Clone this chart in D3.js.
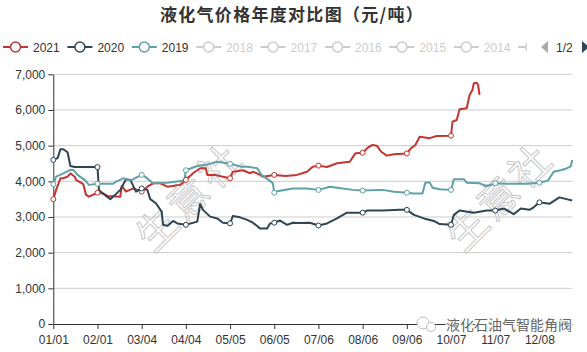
<!DOCTYPE html>
<html>
<head>
<meta charset="utf-8">
<script src="https://cdn.jsdelivr.net/npm/d3@7"></script>
<style>
  body { margin: 0; background: #fff; }
  svg { display: block; font-family: "Liberation Sans", Arial, sans-serif; }
</style>
</head>
<body>
<div id="chart"></div>
<script>
// 数据：每条线 [一年中的第几天(0 = 01/01), 价格 元/吨]
var s2021 = [[0,3500],[2,3760],[5,4085],[7,4085],[10,4130],[12,4225],[15,4130],[16,4040],[21,3920],[23,3620],[25,3570],[31,3680],[35,3660],[38,3590],[47,3570],[48,3870],[51,3710],[56,3800],[62,3710],[66,3850],[70,3945],[75,3945],[80,3850],[89,3900],[93,4040],[98,4225],[103,4366],[107,4366],[108,4180],[113,4180],[119,4130],[124,4085],[126,4270],[133,4310],[138,4225],[140,4270],[145,4180],[147,4130],[155,4180],[163,4150],[171,4180],[178,4270],[182,4410],[186,4440],[192,4400],[199,4506],[208,4550],[212,4790],[217,4800],[221,4955],[224,5020],[227,5000],[230,4830],[234,4720],[239,4760],[248,4780],[251,4930],[254,5020],[257,5250],[264,5210],[269,5270],[279,5280],[280,5670],[283,5720],[285,6020],[290,6050],[292,6420],[294,6560],[295,6750],[297,6766],[298,6700],[299,6420]];
var s2020 = [[0,4600],[3,4650],[5,4900],[7,4900],[10,4815],[12,4430],[15,4400],[31,4400],[32,3760],[35,3650],[40,3500],[47,3760],[51,4060],[54,4040],[58,3710],[62,3800],[66,3760],[68,3500],[72,3384],[76,3150],[77,2780],[80,2750],[84,2890],[87,2820],[93,2780],[101,2870],[103,3365],[105,3200],[110,3010],[115,2960],[119,2840],[124,2823],[126,3030],[131,2990],[136,2920],[140,2840],[145,2680],[150,2680],[152,2820],[155,2840],[159,2900],[164,2780],[168,2840],[173,2830],[180,2840],[186,2760],[192,2820],[199,2960],[206,3120],[217,3120],[220,3180],[231,3180],[243,3200],[248,3200],[253,3060],[260,2960],[267,2890],[271,2800],[279,2780],[281,3060],[285,3180],[295,3120],[304,3180],[310,3180],[316,3240],[323,3080],[328,3240],[334,3200],[337,3270],[341,3410],[348,3370],[355,3550],[360,3500],[364,3460]];
var s2019 = [[0,3920],[2,4130],[6,4200],[12,4320],[14,4320],[17,4180],[22,4040],[25,3900],[31,3930],[42,3930],[44,3990],[49,4085],[54,4020],[62,4180],[65,4110],[70,3945],[80,3960],[92,4020],[93,4310],[101,4430],[107,4460],[115,4550],[124,4490],[132,4410],[136,4410],[143,4370],[146,4180],[151,4040],[154,3950],[155,3680],[157,3720],[168,3800],[178,3800],[186,3760],[194,3850],[199,3820],[210,3760],[217,3740],[231,3760],[239,3710],[248,3680],[253,3660],[259,3660],[261,3970],[264,3970],[266,3820],[271,3776],[279,3760],[281,4057],[288,4060],[290,3963],[299,3945],[304,3860],[310,3945],[318,3930],[332,3930],[341,3960],[347,4020],[351,4270],[356,4310],[360,4360],[363,4420],[364,4600]];

var seriesNames = ["2021", "2020", "2019"];
var seriesData = [s2021, s2020, s2019];
var seriesColors = ["#c23531", "#2f4554", "#61a0a8"];
var legendNames = ["2021", "2020", "2019", "2018", "2017", "2016", "2015", "2014"];
var yTicks = [0, 1000, 2000, 3000, 4000, 5000, 6000, 7000];

// 类目：365 天 (MM/DD)，每 31 天一个刻度
var dates = d3.timeDay.range(new Date(2019, 0, 1), new Date(2020, 0, 1)).map(d3.timeFormat("%m/%d"));
var tickDates = dates.filter(function(d, i) { return i % 31 === 0; });

var width = 587, height = 352;
var margin = {top: 74.3, right: 14.8, bottom: 28, left: 53.3};

var svg = d3.select("#chart").append("svg")
  .attr("width", width).attr("height", height);

var x = d3.scalePoint().domain(dates).range([margin.left, width - margin.right]);
var y = d3.scaleLinear().domain([0, 7000]).range([height - margin.bottom, margin.top]);

// 标题
svg.append("text")
  .attr("x", 292).attr("y", 21)
  .attr("text-anchor", "middle")
  .style("font-family", "'Noto Sans CJK SC', sans-serif")
  .style("font-size", "17px").style("font-weight", "bold")
  .style("letter-spacing", "1.3px")
  .attr("fill", "#333")
  .text("液化气价格年度对比图（元/吨）");

// 网格线
svg.append("g").selectAll("line").data(yTicks.slice(1)).enter().append("line")
  .attr("x1", margin.left).attr("x2", width - margin.right)
  .attr("y1", function(d) { return y(d); }).attr("y2", function(d) { return y(d); })
  .attr("stroke", "#ccc").attr("stroke-width", 1);

// 水印 生意社
[[190, 197], [500, 197]].forEach(function(p) {
  svg.append("text")
    .attr("transform", "translate(" + p[0] + "," + p[1] + ") rotate(-45)")
    .attr("text-anchor", "middle").attr("dy", "0.35em")
    .style("font-family", "'Noto Sans CJK SC', sans-serif")
    .style("font-size", "40px").style("letter-spacing", "4px")
    .attr("fill", "none").attr("stroke", "#c8c8c8").attr("stroke-width", 1)
    .text("生意社");
});

// 坐标轴
var yAxis = svg.append("g")
  .attr("transform", "translate(" + margin.left + ",0)")
  .call(d3.axisLeft(y).tickValues(yTicks).tickFormat(d3.format(",")).tickSize(5).tickSizeOuter(0));
var xAxis = svg.append("g")
  .attr("transform", "translate(0," + (height - margin.bottom) + ")")
  .call(d3.axisBottom(x).tickValues(tickDates).tickSize(5).tickSizeOuter(0));
[yAxis, xAxis].forEach(function(g) {
  g.select(".domain").attr("stroke", "#333");
  g.selectAll(".tick line").attr("stroke", "#333");
  g.selectAll("text").attr("fill", "#333").style("font-size", "12px")
    .style("font-family", "'Liberation Sans', Arial, sans-serif");
});
yAxis.selectAll("text").attr("x", -8);
xAxis.selectAll("text").attr("y", 11);

// 折线
var line = d3.line()
  .x(function(d) { return x(dates[d[0]]); })
  .y(function(d) { return y(d[1]); });

seriesData.forEach(function(data, k) {
  svg.append("path")
    .datum(data)
    .attr("fill", "none")
    .attr("stroke", seriesColors[k])
    .attr("stroke-width", 2)
    .attr("stroke-linejoin", "round")
    .attr("d", line);
});

// 每 31 天一个空心圆点
seriesData.forEach(function(data, k) {
  svg.append("g").selectAll("circle")
    .data(data.filter(function(d) { return d[0] % 31 === 0; }))
    .enter().append("circle")
    .attr("cx", function(d) { return x(dates[d[0]]); })
    .attr("cy", function(d) { return y(d[1]); })
    .attr("r", 2.5)
    .attr("fill", "#fff")
    .attr("stroke", seriesColors[k])
    .attr("stroke-width", 1);
});

// 图例
function legendIcon(g, x0, cy, c) {
  g.append("line")
    .attr("x1", x0).attr("x2", x0 + 25).attr("y1", cy).attr("y2", cy)
    .attr("stroke", c).attr("stroke-width", 2);
  g.append("circle")
    .attr("cx", x0 + 12.5).attr("cy", cy).attr("r", 5)
    .attr("fill", "#fff").attr("stroke", c).attr("stroke-width", 1.5);
}
svg.append("clipPath").attr("id", "legendClip")
  .append("rect").attr("x", 0).attr("y", 30).attr("width", 527).attr("height", 30);
var legend = svg.append("g").attr("clip-path", "url(#legendClip)");
legendNames.forEach(function(name, i) {
  var x0 = 3 + i * 64.4, cy = 47;
  var active = i < seriesNames.length;
  legendIcon(legend, x0, cy, active ? seriesColors[i] : "#ccc");
  legend.append("text")
    .attr("x", x0 + 30).attr("y", cy + 4.5)
    .style("font-size", "12px")
    .attr("fill", active ? "#333" : "#ccc")
    .text(name);
});
// 下一项图例被截断，只露出图标
legendIcon(legend, 3 + legendNames.length * 64.4, 47, "#ccc");

// 翻页
svg.append("path").attr("d", "M548,41 L541,47 L548,53 Z").attr("fill", "#aaa");
svg.append("text").attr("x", 556).attr("y", 51.5).style("font-size", "12px").attr("fill", "#333").text("1/2");
svg.append("path").attr("d", "M582,41 L589,47 L582,53 Z").attr("fill", "#2f4554");

// 右下角公众号标记
var mark = svg.append("g");
mark.append("circle").attr("cx", 423).attr("cy", 323).attr("r", 6)
  .attr("fill", "#fff").attr("stroke", "#bbb").attr("stroke-width", 1);
mark.append("circle").attr("cx", 431).attr("cy", 327).attr("r", 4.5)
  .attr("fill", "#fff").attr("stroke", "#bbb").attr("stroke-width", 1);
mark.append("text")
  .attr("x", 446).attr("y", 330)
  .style("font-family", "'Noto Sans CJK SC', sans-serif")
  .style("font-size", "14px")
  .style("paint-order", "stroke")
  .attr("stroke", "#fff").attr("stroke-width", 3)
  .attr("fill", "#666")
  .text("液化石油气智能角阀");
</script>
</body>
</html>
